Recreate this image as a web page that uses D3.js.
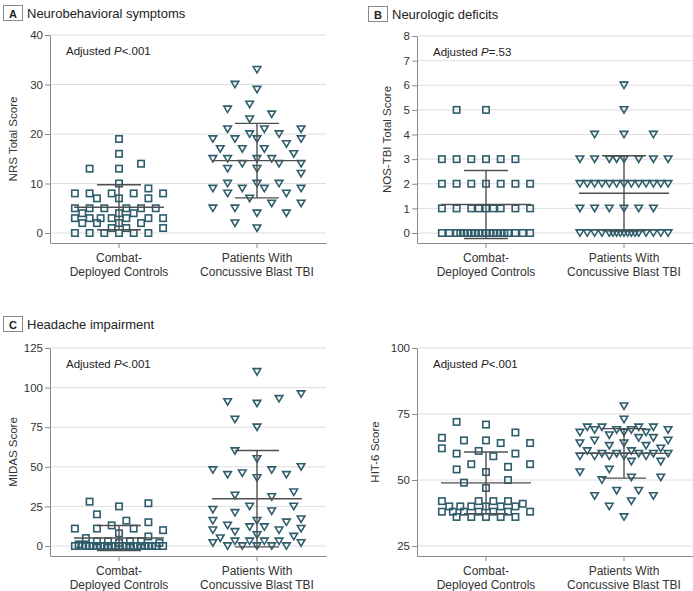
<!DOCTYPE html>
<html><head><meta charset="utf-8">
<script src="https://cdn.jsdelivr.net/npm/d3@7"></script>
<style>
body{margin:0;background:#fff}
svg{display:block}
text{font-family:"Liberation Sans",Arial,sans-serif}
</style>
</head><body>
<svg id="chart" width="693" height="591"></svg>
<script>
// ---------- data ----------
const categories = ["Combat-Deployed Controls", "Patients With Concussive Blast TBI"];
const categoryLines = [["Combat-", "Deployed Controls"], ["Patients With", "Concussive Blast TBI"]];

const nrsTicks = [0, 10, 20, 30, 40];
const nrsControls = [19,16,14,13,13,10,9,8,8,8,8,8,7,7,7,5,5,5,5,5,5,4,4,4,3,3,3,3,3,3,3,2,2,2,2,1,1,1,0,0,0,0,0,0];
const nrsPatients = [33,30,29,26,25,24,23,21,21,21,20,20,19,19,19,19,18,17,17,17,16,15,15,15,15,14,14,14,13,13,12,10,10,10,9,9,9,9,8,8,7,6,6,5,5,4,4,2,1];

const nosTicks = [0, 1, 2, 3, 4, 5, 6, 7, 8];
const nosControls = [5,5,3,3,3,3,3,3,2,2,2,2,2,2,2,1,1,1,1,1,1,1,1,1,0,0,0,0,0,0,0,0,0,0,0,0,0,0,0,0,0,0,0,0];
const nosPatients = [6,5,4,4,4,3,3,3,3,3,3,3,3,2,2,2,2,2,2,2,2,2,2,2,2,2,1,1,1,1,1,1,0,0,0,0,0,0,0,0,0,0,0,0,0,0,0,0,0];

const midasTicks = [0, 25, 50, 75, 100, 125];
const midasControls = [28,27,25,20,16,15,13,11,11,11,10,8,6,5,3,3,3,3,2,2,1,0,0,0,0,0,0,0,0,0,0,0,0,0,0,0,0,0,0,0,0,0,0,0];
const midasPatients = [110,96,93,91,90,80,75,60,55,50,48,48,46,45,45,43,34,32,31,25,25,23,22,21,17,16,16,15,13,12,12,11,10,10,9,7,6,5,3,3,3,3,2,2,0,0,0,0,0];

const hitTicks = [25, 50, 75, 100];
const hitControls = [72,71,68,66,65,65,64,64,62,61,60,60,59,56,56,55,54,53,50,49,47,42,42,42,42,41,40,40,40,40,40,40,38,38,38,38,38,38,38,36,36,36,36,36];
const hitPatients = [78,73,70,70,70,70,69,69,69,69,68,68,68,67,66,66,65,65,64,64,63,63,62,61,61,60,60,60,60,60,59,59,59,59,59,57,57,54,53,51,51,50,46,46,44,44,42,40,36];

// ---------- layout ----------
const PLOT_W = 276;
const panels = [
  {letter:"A", title:"Neurobehavioral symptoms", yTitle:"NRS Total Score", p:"<.001",
   ticks:nrsTicks, data:[nrsControls, nrsPatients], left:50, top:35, bottom:243, zeroY:233,
   boxX:3, boxY:5, yTitleX:17},
  {letter:"B", title:"Neurologic deficits", yTitle:"NOS-TBI Total Score", p:"=.53",
   ticks:nosTicks, data:[nosControls, nosPatients], left:417, top:36, bottom:243, zeroY:233,
   boxX:368, boxY:6, yTitleX:391},
  {letter:"C", title:"Headache impairment", yTitle:"MIDAS Score", p:"<.001",
   ticks:midasTicks, data:[midasControls, midasPatients], left:50, top:348, bottom:556, zeroY:546,
   boxX:3, boxY:316, yTitleX:17},
  {letter:null, title:null, yTitle:"HIT-6 Score", p:"<.001",
   ticks:hitTicks, data:[hitControls, hitPatients], left:417, top:348, bottom:556, zeroY:546,
   boxX:0, boxY:0, yTitleX:379}
];

const MARK = "#2f5d6b";
const LINE = "#4f4f4f";
const AXIS = "#8a8a8a";
const GRID = "#dedede";
const TXT = "#333";

const svg = d3.select("#chart");

// Prism-like scatter-dot layout: non-overlapping slots, spread out within +/- maxC columns
function swarm(values, y, s, h, maxC, cap) {
  const idx = values.map((v, i) => i).sort((a, b) => values[a] - values[b]);
  const coarse = [0];
  for (let k = 1; k <= maxC * 2; k++) coarse.push(-k * s / 2, k * s / 2);
  const fine = [0];
  for (let k = 1; k <= maxC * 4; k++) fine.push(-k * s / 4, k * s / 4);
  const placed = [], off = new Array(values.length);
  for (const i of idx) {
    const py = y(values[i]);
    let chosen = null, best = -1;
    for (const c of coarse) {
      let ok = true, m = Infinity;
      for (const p of placed) {
        const dx = Math.abs(c - p.x), dy = Math.abs(py - p.y);
        if (dy < 1.5 ? dx < s * 0.95 : (dy < h && dx < s * 0.45)) { ok = false; break; }
        if (dy < 2 * h) m = Math.min(m, Math.hypot(dx / s, dy / h));
      }
      if (!ok) continue;
      const sc = Math.min(m, cap);
      if (sc > best + 1e-9) { best = sc; chosen = c; }
    }
    if (chosen === null) {
      best = -1;
      for (const c of fine) {
        let m = Infinity;
        for (const p of placed) {
          const dx = (c - p.x) / s, dy = (py - p.y) / h;
          if (Math.abs(dy) < 1) m = Math.min(m, Math.hypot(dx, dy));
        }
        if (m > best + 1e-9) { best = m; chosen = c; }
      }
    }
    off[i] = chosen;
    placed.push({x: chosen, y: py});
  }
  return off;
}

panels.forEach(P => {
  const g = svg.append("g");
  const t0 = P.ticks[0], t1 = P.ticks[P.ticks.length - 1];
  const k = (P.zeroY - P.top) / (t1 - t0);
  const dMin = t0 - (P.bottom - P.zeroY) / k;
  const y = d3.scaleLinear().domain([dMin, t1]).range([P.bottom, P.top]);
  const x = d3.scaleBand().domain(categories).range([P.left, P.left + PLOT_W]);

  // grid
  g.append("g").selectAll("line").data(P.ticks).join("line")
    .attr("x1", P.left).attr("x2", P.left + PLOT_W)
    .attr("y1", d => y(d)).attr("y2", d => y(d))
    .attr("stroke", GRID).attr("stroke-width", 1);

  // y axis
  const ya = g.append("g").attr("transform", `translate(${P.left},0)`)
    .call(d3.axisLeft(y).tickValues(P.ticks).tickSize(5).tickSizeOuter(0).tickPadding(2));
  ya.select(".domain").attr("stroke", AXIS);
  ya.selectAll(".tick line").attr("stroke", AXIS);
  ya.selectAll(".tick text").attr("fill", TXT).style("font-size", "11.5px")
    .style("font-family", '"Liberation Sans",Arial,sans-serif');

  // x axis
  const xa = g.append("g").attr("transform", `translate(0,${P.bottom})`)
    .call(d3.axisBottom(x).tickSize(5).tickSizeOuter(0).tickFormat(""));
  xa.select(".domain").attr("stroke", AXIS);
  xa.selectAll(".tick line").attr("stroke", AXIS);

  // category labels
  categories.forEach((c, ci) => {
    const cx = x(c) + x.bandwidth() / 2;
    categoryLines[ci].forEach((ln, li) => {
      g.append("text").attr("x", cx).attr("y", P.bottom + 19 + li * 13.5)
        .attr("text-anchor", "middle").attr("fill", TXT).style("font-size", "12px").text(ln);
    });
  });

  // y title
  g.append("text")
    .attr("transform", `translate(${P.yTitleX},${(P.top + P.bottom) / 2}) rotate(-90)`)
    .attr("text-anchor", "middle").attr("fill", TXT).style("font-size", "11.5px").text(P.yTitle);

  // adjusted p
  const pt = g.append("text").attr("x", P.left + 16).attr("y", P.top + 20)
    .attr("fill", "#222").style("font-size", "11.5px");
  pt.append("tspan").text("Adjusted ");
  pt.append("tspan").style("font-style", "italic").text("P");
  pt.append("tspan").text(P.p);

  // panel title
  if (P.letter) {
    g.append("rect").attr("x", P.boxX + 0.5).attr("y", P.boxY + 0.5).attr("width", 19).attr("height", 15)
      .attr("fill", "none").attr("stroke", "#8a8a8a").attr("stroke-width", 1);
    g.append("text").attr("x", P.boxX + 10).attr("y", P.boxY + 12.5).attr("text-anchor", "middle")
      .attr("fill", "#222").style("font-size", "11px").style("font-weight", "bold").text(P.letter);
    g.append("text").attr("x", P.boxX + 24).attr("y", P.boxY + 12.5)
      .attr("fill", "#222").style("font-size", "13px").text(P.title);
  }

  // points
  const S = 14.7;
  P.data.forEach((vals, ci) => {
    const cx = x(categories[ci]) + x.bandwidth() / 2;
    const offs = swarm(vals, y, S, 8, 3, 1.6);
    const pts = vals.map((v, i) => ({v, dx: offs[i]}));
    if (ci === 0) {
      g.append("g").selectAll("rect").data(pts).join("rect")
        .attr("x", d => cx + d.dx - 3.2).attr("y", d => y(d.v) - 3.2)
        .attr("width", 6.4).attr("height", 6.4)
        .attr("fill", "none").attr("stroke", MARK).attr("stroke-width", 1.6);
    } else {
      g.append("g").selectAll("path").data(pts).join("path")
        .attr("transform", d => `translate(${cx + d.dx},${y(d.v)})`)
        .attr("d", "M-3.8,-3.1L3.8,-3.1L0,3.3Z")
        .attr("fill", "none").attr("stroke", MARK).attr("stroke-width", 1.6).attr("stroke-linejoin", "miter");
    }
    // mean and SD
    const m = d3.mean(vals), sd = d3.deviation(vals);
    const lg = g.append("g").attr("stroke", LINE).attr("stroke-width", 1.4);
    lg.append("line").attr("x1", cx - 45).attr("x2", cx + 45).attr("y1", y(m)).attr("y2", y(m));
    [m - sd, m + sd].forEach(v => {
      lg.append("line").attr("x1", cx - 22).attr("x2", cx + 22).attr("y1", y(v)).attr("y2", y(v));
    });
    lg.append("line").attr("x1", cx).attr("x2", cx).attr("y1", y(m - sd)).attr("y2", y(m + sd));
  });
});
</script>
</body></html>
